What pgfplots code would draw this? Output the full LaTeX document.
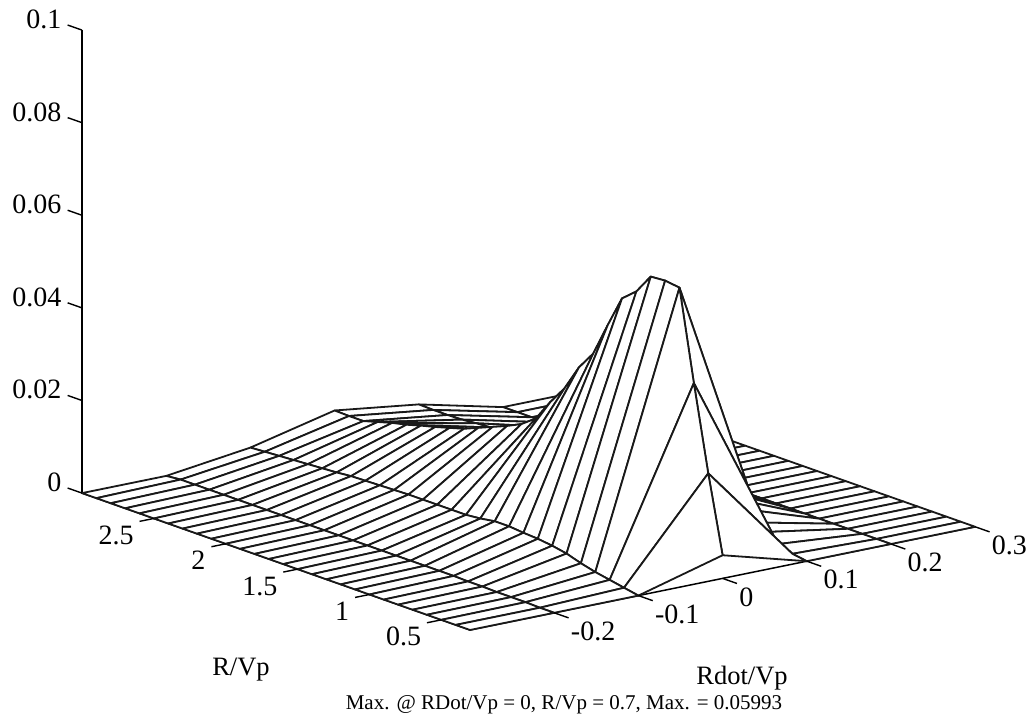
\documentclass[border=0pt]{standalone}
\usepackage{pgfplots}
\pgfplotsset{compat=1.18}
\usepackage{fontspec}
\setmainfont{Liberation Serif}
\begin{document}
\begin{tikzpicture}
\begin{axis}[
  x={(842pt,172pt)}, y={(-143.7pt,50.7pt)}, z={(0pt,4630pt)},
  xmin=-0.3, xmax=0.3, ymin=0.3, ymax=3, zmin=0, zmax=0.1,
  axis lines=left, axis line style={-, line width=1.5pt, black},
  clip=false,
  tick align=outside, major tick length=14pt,
  major tick style={draw=none},
  minor tick num=0,
  xtick={-0.2,-0.1,0,0.1,0.2,0.3}, xticklabels={-0.2,-0.1,0,0.1,0.2,0.3},
  ytick={0.5,1,1.5,2,2.5}, yticklabels={0.5,1,1.5,2,2.5},
  ztick={0,0.02,0.04,0.06,0.08,0.1}, zticklabels={0,0.02,0.04,0.06,0.08,0.1},
  ticklabel style={font=\fontsize{28}{30}\selectfont},
  xticklabel style={anchor=west,xshift=0pt,yshift=-14pt},
  yticklabel style={anchor=east,xshift=-3pt,yshift=-14pt},
  zticklabel style={anchor=east,xshift=-4pt,yshift=6pt},
  colormap={allwhite}{color(0cm)=(white) color(1cm)=(white)},
]
\addplot3[surf, z buffer=none, shader=faceted, faceted color=black!90, line width=1.8pt, line join=round, mesh/cols=7] table[row sep=newline] {
x y z
0.3 3.0 0
0.2 3.0 0
0.1 3.0 .0043
0 3.0 .0067
-0.1 3.0 .0024
-0.2 3.0 0
-0.3 3.0 0

0.3 2.9 0
0.2 2.9 0
0.1 2.9 .0042
0 2.9 .0066
-0.1 2.9 .0026
-0.2 2.9 .0003
-0.3 2.9 0

0.3 2.8 0
0.2 2.8 0
0.1 2.8 .0042
0 2.8 .0066
-0.1 2.8 .0028
-0.2 2.8 .0003
-0.3 2.8 0

0.3 2.7 0
0.2 2.7 0
0.1 2.7 .0043
0 2.7 .0075
-0.1 2.7 .0030
-0.2 2.7 .0003
-0.3 2.7 0

0.3 2.6 0
0.2 2.6 0
0.1 2.6 .0046
0 2.6 .0084
-0.1 2.6 .0032
-0.2 2.6 .0003
-0.3 2.6 0

0.3 2.5 0
0.2 2.5 0
0.1 2.5 .0048
0 2.5 .0091
-0.1 2.5 .0034
-0.2 2.5 .0003
-0.3 2.5 0

0.3 2.4 0
0.2 2.4 0
0.1 2.4 .0050
0 2.4 .0100
-0.1 2.4 .0036
-0.2 2.4 .0003
-0.3 2.4 0

0.3 2.3 0
0.2 2.3 0
0.1 2.3 .0055
0 2.3 .0108
-0.1 2.3 .0039
-0.2 2.3 .0003
-0.3 2.3 0

0.3 2.2 0
0.2 2.2 0
0.1 2.2 .0060
0 2.2 .0117
-0.1 2.2 .0040
-0.2 2.2 .0003
-0.3 2.2 0

0.3 2.1 0
0.2 2.1 0
0.1 2.1 .0065
0 2.1 .0126
-0.1 2.1 .0041
-0.2 2.1 .0003
-0.3 2.1 0

0.3 2.0 0
0.2 2.0 0
0.1 2.0 .0070
0 2.0 .0139
-0.1 2.0 .0042
-0.2 2.0 .0003
-0.3 2.0 0

0.3 1.9 0
0.2 1.9 0
0.1 1.9 .0075
0 1.9 .0152
-0.1 1.9 .0043
-0.2 1.9 .0003
-0.3 1.9 0

0.3 1.8 0
0.2 1.8 0
0.1 1.8 .0080
0 1.8 .0165
-0.1 1.8 .0043
-0.2 1.8 .0003
-0.3 1.8 0

0.3 1.7 0
0.2 1.7 0
0.1 1.7 .0085
0 1.7 .0180
-0.1 1.7 .0043
-0.2 1.7 .0003
-0.3 1.7 0

0.3 1.6 0
0.2 1.6 0
0.1 1.6 .0090
0 1.6 .0203
-0.1 1.6 .0043
-0.2 1.6 .0003
-0.3 1.6 0

0.3 1.5 0
0.2 1.5 0
0.1 1.5 .0090
0 1.5 .0249
-0.1 1.5 .0043
-0.2 1.5 .0003
-0.3 1.5 0

0.3 1.4 0
0.2 1.4 0
0.1 1.4 .0090
0 1.4 .0290
-0.1 1.4 .0046
-0.2 1.4 .0003
-0.3 1.4 0

0.3 1.3 0
0.2 1.3 0
0.1 1.3 .0090
0 1.3 .0346
-0.1 1.3 .0051
-0.2 1.3 .0003
-0.3 1.3 0

0.3 1.2 0
0.2 1.2 0
0.1 1.2 .0090
0 1.2 .0387
-0.1 1.2 .0051
-0.2 1.2 .0003
-0.3 1.2 0

0.3 1.1 0
0.2 1.1 0
0.1 1.1 .0088
0 1.1 .0459
-0.1 1.1 .0048
-0.2 1.1 .0003
-0.3 1.1 0

0.3 1.0 0
0.2 1.0 0
0.1 1.0 .0085
0 1.0 .0528
-0.1 1.0 .0046
-0.2 1.0 .0003
-0.3 1.0 0

0.3 0.9 0
0.2 0.9 0
0.1 0.9 .0075
0 0.9 .0554
-0.1 0.9 .0042
-0.2 0.9 .0002
-0.3 0.9 0

0.3 0.8 0
0.2 0.8 0
0.1 0.8 .0060
0 0.8 .0597
-0.1 0.8 .0036
-0.2 0.8 .0002
-0.3 0.8 0

0.3 0.7 0
0.2 0.7 0
0.1 0.7 .0040
0 0.7 .05993
-0.1 0.7 .0026
-0.2 0.7 .0001
-0.3 0.7 0

0.3 0.6 0
0.2 0.6 0
0.1 0.6 .0030
0 0.6 .0595
-0.1 0.6 .0018
-0.2 0.6 .0001
-0.3 0.6 0

0.3 0.5 0
0.2 0.5 0
0.1 0.5 .0015
0 0.5 .0400
-0.1 0.5 .0012
-0.2 0.5 .0001
-0.3 0.5 0

0.3 0.4 0
0.2 0.4 0
0.1 0.4 .0005
0 0.4 .0216
-0.1 0.4 .0006
-0.2 0.4 0
-0.3 0.4 0

0.3 0.3 0
0.2 0.3 0
0.1 0.3 0
0 0.3 .0050
-0.1 0.3 0
-0.2 0.3 0
-0.3 0.3 0
};
\addplot3[black, line width=1.4pt, no markers, empty line=jump, forget plot] table[row sep=newline] {
x y z
-0.2 0.3 0
-0.2 0.2 0

-0.1 0.3 0
-0.1 0.2 0

0 0.3 0
0 0.2 0

0.1 0.3 0
0.1 0.2 0

0.2 0.3 0
0.2 0.2 0

0.3 0.3 0
0.3 0.2 0

-0.3 0.5 0
-0.317 0.5 0

-0.3 1 0
-0.317 1 0

-0.3 1.5 0
-0.317 1.5 0

-0.3 2 0
-0.317 2 0

-0.3 2.5 0
-0.317 2.5 0

-0.3 3 0
-0.3 3.1 0

-0.3 3 0.02
-0.3 3.1 0.02

-0.3 3 0.04
-0.3 3.1 0.04

-0.3 3 0.06
-0.3 3.1 0.06

-0.3 3 0.08
-0.3 3.1 0.08

-0.3 3 0.1
-0.3 3.1 0.1
};
\coordinate (C) at (axis cs:-0.3,0.3,0);
\end{axis}
\node[font=\fontsize{26.5}{28}\selectfont] at ([shift={(-229pt,-40pt)}]C) {R/Vp};
\node[font=\fontsize{26.5}{28}\selectfont] at ([shift={(272pt,-48pt)}]C) {Rdot/Vp};
\node[font=\fontsize{21}{23}\selectfont] at ([shift={(94pt,-75pt)}]C) {Max. @ RDot/Vp = 0, R/Vp = 0.7, Max. = 0.05993};
\pgfresetboundingbox
\path[use as bounding box] (C) ++(-470pt,-92pt) rectangle ++(1036pt,722pt);
\end{tikzpicture}
\end{document}
